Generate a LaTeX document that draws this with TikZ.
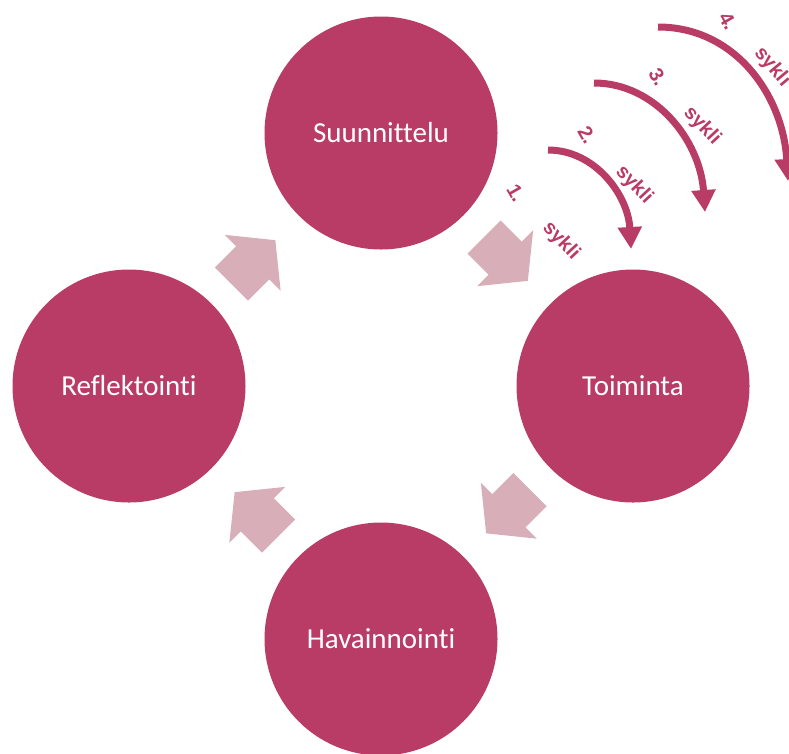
\documentclass[tikz,border=0pt]{standalone}
\usepackage{fontspec}
\usetikzlibrary{arrows.meta}
\newfontfamily\circlefont[Ligatures=NoCommon]{Carlito}
\newfontfamily\labelfont{Liberation Sans}
\definecolor{phaseRed}{RGB}{185,60,102}
\definecolor{arrowPink}{RGB}{216,174,185}

\begin{document}
\begin{tikzpicture}[
    x=1pt, y=-1pt,
    phase/.style={circle, fill=phaseRed, minimum size=233pt, inner sep=0pt,
        text=white, font=\circlefont\fontsize{29}{34}\selectfont},
    cyclelabel/.style={text=phaseRed, inner sep=0pt,
        font=\labelfont\bfseries\fontsize{20}{24}\selectfont},
    cyclearc/.style={line width=7pt, phaseRed, -{Triangle[width=23pt, length=22pt]}},
    cyclearrow/.pic={
        \fill[arrowPink] (0,-23.5) -- (30,-23.5) -- (30,-39.5) -- (62,0)
            -- (30,39.5) -- (30,23.5) -- (0,23.5) -- cycle;
    },
]
\useasboundingbox (0,0) rectangle (789,753);

% === Four phases of the cycle ===
\node[phase] (plan)    at (381,133) {Suunnittelu};
\node[phase] (act)     at (633,386) {Toiminta};
\node[phase] (observe) at (381,639) {Havainnointi};
\node[phase] (reflect) at (129,386) {Reflektointi};

% === Block arrows between the phases ===
\foreach \px/\py/\ang in {484/237/-45, 530/489.5/-135, 278.5/536/135, 231.5/284/45} {
    \pic[rotate=\ang] at (\px,\py) {cyclearrow};
}

% === Repeated cycles (curved arrows) ===
\coordinate (c2s) at (548,150);
\coordinate (c2e) at (631,249);
\coordinate (c3s) at (594,83);
\coordinate (c3e) at (705,212);
\coordinate (c4s) at (658,27);
\coordinate (c4e) at (788,181);
\draw[cyclearc] (c2s) .. controls (595,150) and (628,195) .. (c2e);
\draw[cyclearc] (c3s) .. controls (655,83) and (700,140) .. (c3e);
\draw[cyclearc] (c4s) .. controls (735,27) and (783,95) .. (c4e);

% === Cycle labels ===
\node[cyclelabel, rotate=-60] (num1)  at (516,193) {1.};
\node[cyclelabel, rotate=-47] (sykli1) at (561,241) {sykli};
\node[cyclelabel, rotate=-60] (num2)  at (587,135) {2.};
\node[cyclelabel, rotate=-47] (sykli2) at (634,185) {sykli};
\node[cyclelabel, rotate=-60] (num3)  at (658,77) {3.};
\node[cyclelabel, rotate=-47] (sykli3) at (702,126) {sykli};
\node[cyclelabel, rotate=-60] (num4)  at (728,21) {4.};
\node[cyclelabel, rotate=-50] (sykli4) at (772,67) {sykli};

\end{tikzpicture}
\end{document}
